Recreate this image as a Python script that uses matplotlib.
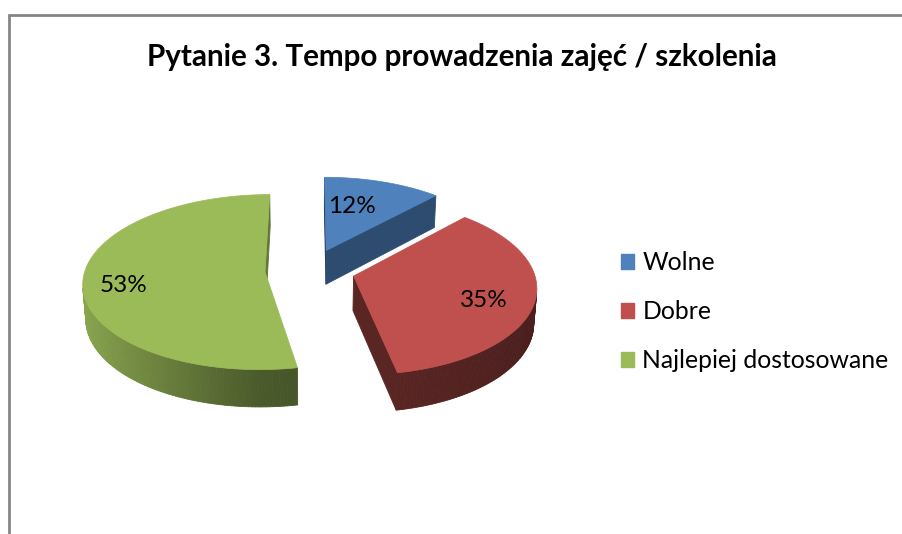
import numpy as np
import matplotlib
matplotlib.use("Agg")
import matplotlib.pyplot as plt
from matplotlib.patches import Polygon, Patch
from matplotlib.colors import to_rgb

# ---------------- data ----------------
categories = ["Wolne", "Dobre", "Najlepiej dostosowane"]
values = [12, 35, 53]
value_labels = ["12%", "35%", "53%"]
title = "Pytanie 3. Tempo prowadzenia zajęć / szkolenia"
colors = ["#4F81BD", "#C0504D", "#9BBB59"]

# ---------------- layout ----------------
W, H = 902, 534
fig = plt.figure(figsize=(W / 100, H / 100), dpi=100)
ax = fig.add_axes([0, 0, 1, 1])
ax.set_xlim(0, W)
ax.set_ylim(H, 0)
ax.axis("off")

FONT = ["Lato", "DejaVu Sans"]

# chart frame (left and top visible)
ax.plot([8.5, 8.5, W + 5], [H + 5, 15, 15], color="#868686", lw=2,
        solid_joinstyle="miter", zorder=1)

# ---------------- 3D perspective pie ----------------
el = np.radians(28.5)
D = 7.65
S = 180 * D
cx0, cy0 = 310, 270
h = 0.22
explode = 0.25
label_r = [0.60, 0.74, 0.80]
label_dang = np.radians([-6, 5, -6])

cam = np.array([0.0, -D * np.cos(el), D * np.sin(el)])
fwd = -cam / np.linalg.norm(cam)
right = np.array([1.0, 0.0, 0.0])
up = np.cross(right, fwd)


def project(P):
    P = np.atleast_2d(P)
    d = P - cam
    xc = d @ right
    yc = d @ up
    zc = d @ fwd
    return np.column_stack([cx0 + S * xc / zc, cy0 - S * yc / zc]), zc


def direction(t):
    return np.array([np.sin(t), np.cos(t), 0.0])


def shade(c, f):
    r, g, b = to_rgb(c)
    return (min(1, r * f), min(1, g * f), min(1, b * f))


vals = np.array(values, dtype=float)
fr = vals / vals.sum()
ends = np.cumsum(fr) * 2 * np.pi
starts = ends - fr * 2 * np.pi

slices = []
for i in range(len(vals)):
    t0, t1 = starts[i], ends[i]
    mid = 0.5 * (t0 + t1)
    off = explode * direction(mid)
    _, zc_off = project(off)
    slices.append((zc_off[0], i, t0, t1, mid, off))

slices.sort(key=lambda s: -s[0])
down = np.array([0.0, 0.0, -h])

for _, i, t0, t1, mid, off in slices:
    col = colors[i]
    n = max(8, int(180 * (t1 - t0) / np.pi))
    th = np.linspace(t0, t1, n + 1)
    rim = np.array([off + direction(t) for t in th])
    faces = []
    # outer wall strips
    for k in range(n):
        ta, tb = th[k], th[k + 1]
        tm = 0.5 * (ta + tb)
        nrm = direction(tm)
        quad = np.array([rim[k], rim[k + 1], rim[k + 1] + down, rim[k] + down])
        cen = quad.mean(axis=0)
        if nrm @ (cam - cen) <= 0:
            continue
        f = 0.48 + 0.42 * max(0, -np.sin(tm)) - 0.10 * max(0, np.sin(tm))
        pts, zc = project(quad)
        faces.append((project(cen)[1][0], pts, shade(col, f)))
    # cut faces
    for t, nt in ((t0, t0 - np.pi / 2), (t1, t1 + np.pi / 2)):
        nrm = direction(nt)
        e = off + direction(t)
        quad = np.array([off, e, e + down, off + down])
        cen = quad.mean(axis=0)
        if nrm @ (cam - cen) <= 0:
            continue
        f = 0.47 + 0.16 * max(0, np.sin(nt))
        pts, _ = project(quad)
        faces.append((project(cen)[1][0], pts, shade(col, f)))
    faces.sort(key=lambda q: -q[0])
    for _, pts, fc in faces:
        ax.add_patch(Polygon(pts, closed=True, facecolor=fc, edgecolor=fc,
                             lw=0.6, zorder=2))
    top = np.vstack([off, rim])
    pts, _ = project(top)
    ax.add_patch(Polygon(pts, closed=True, facecolor=col, edgecolor=col,
                         lw=0.5, zorder=2))
    lp, _ = project(off + label_r[i] * direction(mid + label_dang[i]))
    ax.text(lp[0, 0] + (3 if i == 2 else 0), lp[0, 1], value_labels[i],
            ha="center", va="center",
            fontsize=17.5, family=FONT, color="black", zorder=5)

# ---------------- title ----------------
ax.text(462, 57, title, ha="center", va="center", fontsize=21.3,
        fontweight="bold", family=FONT, color="black")

# ---------------- legend ----------------
handles = [Patch(facecolor=c, edgecolor=c) for c in colors]
leg = fig.legend(handles, categories, loc="center left",
                 bbox_to_anchor=(621 / W, 1 - 311.5 / H),
                 frameon=False, borderaxespad=0, borderpad=0,
                 handlelength=0.535, handleheight=0.535, handletextpad=0.33,
                 labelspacing=1.05, prop={"family": FONT, "size": 17.8})

fig.savefig("out.png", dpi=100)
